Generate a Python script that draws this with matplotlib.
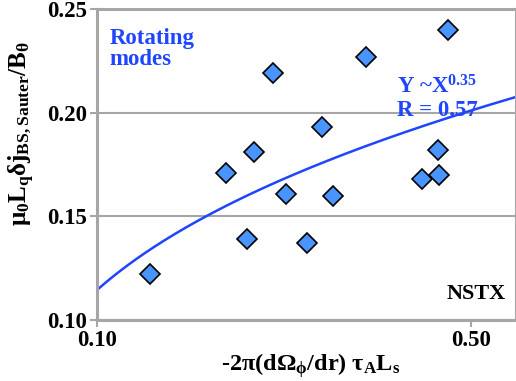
import numpy as np
import matplotlib
matplotlib.use("Agg")
import matplotlib.pyplot as plt

# rotating modes, NSTX
shear = [0.157, 0.238, 0.260, 0.268, 0.288, 0.302, 0.325, 0.341, 0.352, 0.388,
         0.448, 0.466, 0.465, 0.475]
dj = [0.122, 0.171, 0.139, 0.181, 0.219, 0.161, 0.137, 0.193, 0.160, 0.227,
      0.168, 0.170, 0.182, 0.240]

fit_coef = 0.2563
fit_exp = 0.35
fit_r = 0.57

xticks = [0.10, 0.50]
yticks = [0.10, 0.15, 0.20, 0.25]

plt.rcParams["font.family"] = ["Liberation Serif", "DejaVu Serif"]
plt.rcParams["font.weight"] = "bold"
plt.rcParams["mathtext.fontset"] = "custom"
plt.rcParams["mathtext.rm"] = "Liberation Serif:bold"
plt.rcParams["mathtext.it"] = "Liberation Serif:bold"
plt.rcParams["mathtext.bf"] = "Liberation Serif:bold"

blue = "#1f45ff"
gray = "#a6a6a6"

fig = plt.figure(figsize=(5.16, 3.81), dpi=100)
ax = fig.add_axes([0.188, 0.160, 0.812, 0.816])

xs = np.linspace(0.1, 0.56, 200)
ax.plot(xs, fit_coef * xs ** fit_exp, color=blue, lw=1.8, zorder=2)
ax.plot(shear, dj, ls="none", marker="D", markersize=10, markerfacecolor="#4a94ff",
        markeredgecolor="black", markeredgewidth=1.2, zorder=3, clip_on=False)

ax.set_xlim(0.1, 0.548)
ax.set_ylim(0.10, 0.25)
ax.set_xticks(xticks, labels=[f"{t:.2f}" for t in xticks])
ax.set_yticks(yticks, labels=[f"{t:.2f}" for t in yticks])
ax.tick_params(colors=gray, labelcolor="black", labelsize=16.5, length=5, width=1.5, pad=2)
for t in ax.get_xticklabels() + ax.get_yticklabels():
    t.set_fontweight("bold")
ax.yaxis.grid(True, color=gray, lw=1.5)
ax.set_axisbelow(True)
for s in ax.spines.values():
    s.set_color(gray)
    s.set_linewidth(2.2)

ax.set_ylabel(r"$\mu_0 L_q \delta j_{BS,Sauter}/B_\theta$", fontsize=18, fontweight="bold")
ax.yaxis.set_label_coords(-0.143, 0.60)
ax.set_xlabel(r"-2$\pi$(d$\Omega_\phi$/dr) $\tau_A L_s$", fontsize=17.5, fontweight="bold")
ax.xaxis.set_label_coords(0.51, -0.10)

ax.text(0.03, 0.94, "Rotating\nmodes", transform=ax.transAxes, color=blue,
        fontsize=16.5, fontweight="bold", va="top", linespacing=1.0)
ax.text(0.715, 0.64, r"Y ~X$^{0.35}$" + f"\nR = {fit_r}", transform=ax.transAxes,
        color=blue, fontsize=16.5, fontweight="bold", va="bottom", linespacing=1.1)
ax.text(0.975, 0.05, "NSTX", transform=ax.transAxes, fontsize=16,
        fontweight="bold", ha="right", va="bottom")

fig.savefig("out.png", dpi=100)
